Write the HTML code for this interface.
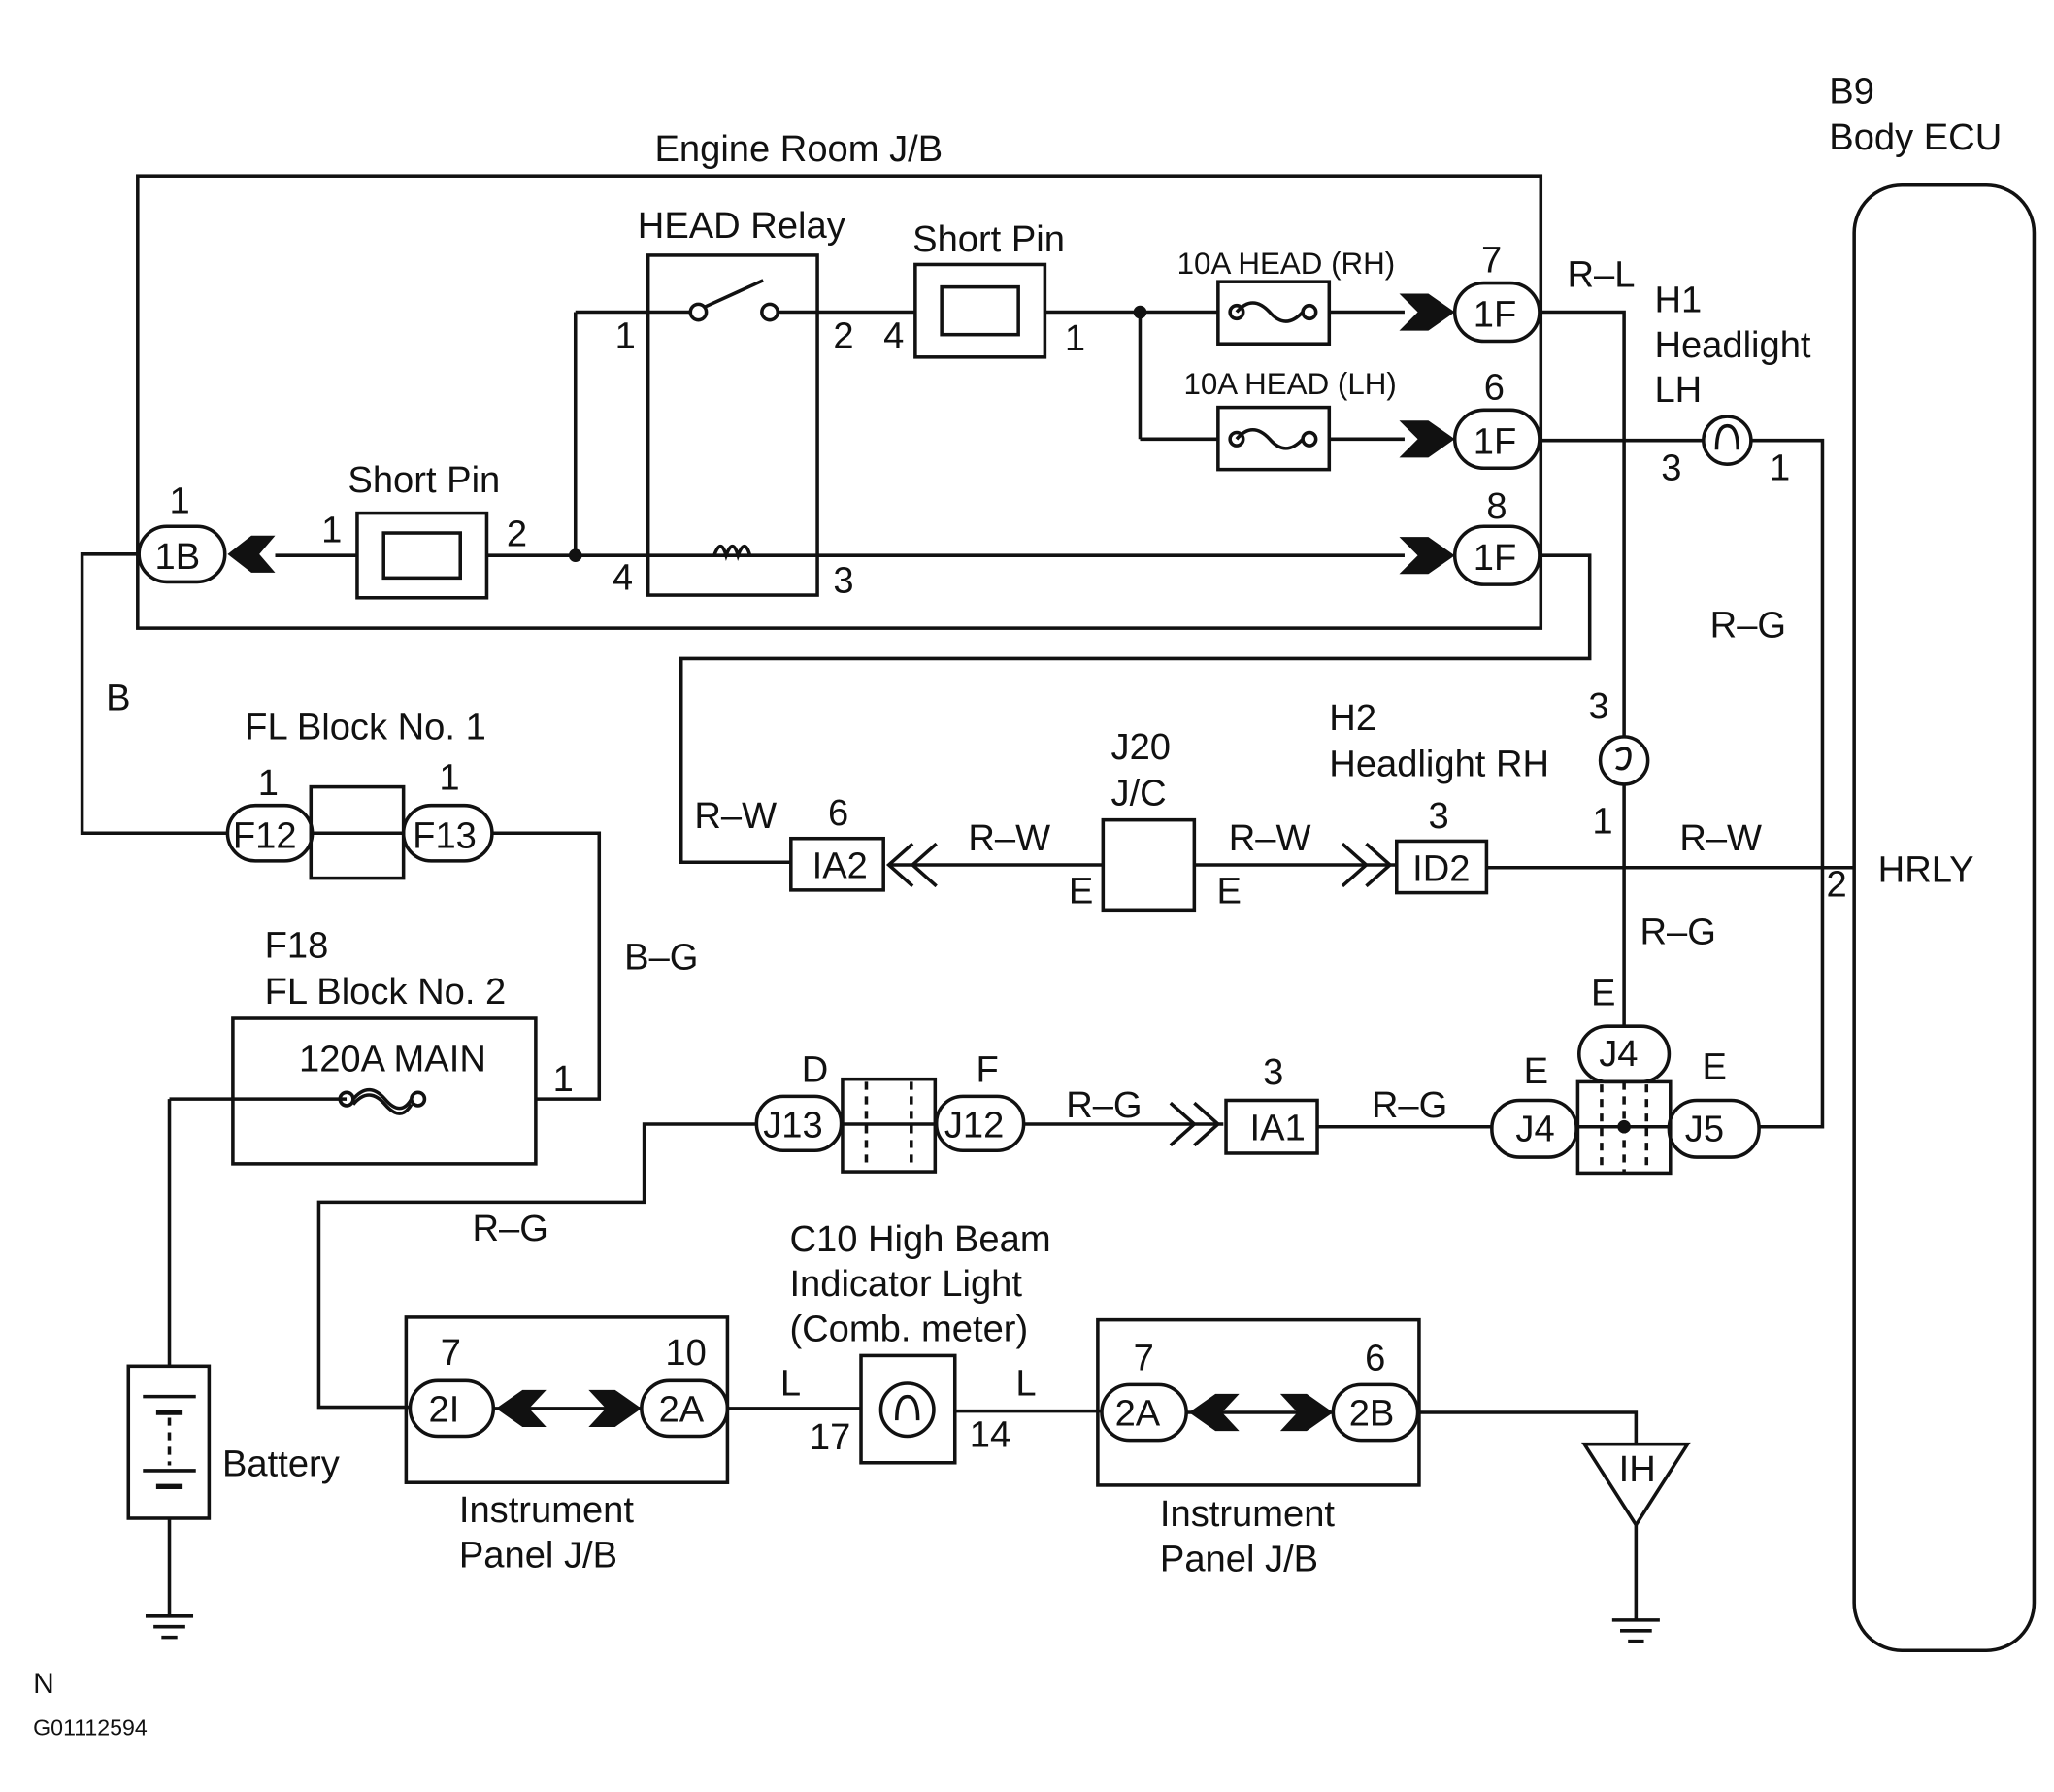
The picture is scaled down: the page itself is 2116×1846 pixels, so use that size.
<!DOCTYPE html>
<html><head><meta charset="utf-8"><style>
html,body{margin:0;padding:0;background:#fff;}
svg{display:block;}
text{font-family:"Liberation Sans",sans-serif;font-size:28px;fill:#111;}
</style></head><body>
<svg width="2116" height="1846" viewBox="0 0 1553 1355" xmlns="http://www.w3.org/2000/svg">
<g fill="none" stroke="#111" stroke-width="2.6">
<!-- Engine room box -->
<rect x="104" y="133" width="1061" height="342"/>
<!-- ECU -->
<rect x="1402" y="140" width="136" height="1108" rx="36"/>
<!-- HEAD relay -->
<rect x="490" y="193" width="128" height="257"/>
<line x1="435" y1="236" x2="522" y2="236"/>
<circle cx="528" cy="236" r="6"/>
<line x1="533" y1="232" x2="577" y2="212"/>
<circle cx="582" cy="236" r="6"/>
<line x1="588" y1="236" x2="692" y2="236"/>
<line x1="435" y1="236" x2="435" y2="420"/>
<!-- short pin top -->
<rect x="692" y="200" width="98" height="70"/>
<rect x="712" y="217" width="58" height="36"/>
<line x1="790" y1="236" x2="921" y2="236"/>
<line x1="862" y1="236" x2="862" y2="332"/>
<line x1="862" y1="332" x2="921" y2="332"/>
<rect x="921" y="213" width="84" height="47"/>
<rect x="921" y="308" width="84" height="47"/>
<path d="M935 236 q12 -14 25 0 q12 14 25 0"/>
<circle cx="935" cy="236" r="5"/><circle cx="990" cy="236" r="5"/>
<path d="M935 332 q12 -14 25 0 q12 14 25 0"/>
<circle cx="935" cy="332" r="5"/><circle cx="990" cy="332" r="5"/>
<line x1="1005" y1="236" x2="1062" y2="236"/>
<line x1="1005" y1="332" x2="1062" y2="332"/>
<!-- connectors 1F -->
<rect x="1100" y="214" width="64" height="44" rx="22"/>
<rect x="1100" y="310" width="64" height="44" rx="22"/>
<rect x="1100" y="398" width="64" height="44" rx="22"/>
<!-- bottom line -->
<line x1="208" y1="420" x2="270" y2="420"/>
<line x1="368" y1="420" x2="1062" y2="420"/>
<rect x="270" y="388" width="98" height="64"/>
<rect x="290" y="403" width="58" height="34"/>
<path d="M540 420 q5 -14 9 0 q5 -14 9 0 q5 -14 9 0"/>
<rect x="105" y="398" width="65" height="42" rx="21"/>
<!-- wiring right -->
<polyline points="1165,236 1228,236 1228,558"/>
<circle cx="1228" cy="575" r="18"/>
<path d="M1222 568 q12 -6 10 6 q-2 10 -10 6"/>
<line x1="1228" y1="593" x2="1228" y2="776"/>
<line x1="1165" y1="333" x2="1288" y2="333"/>
<circle cx="1306" cy="333" r="18"/>
<path d="M1298 340 q0 -18 8 -18 q8 0 8 18"/>
<polyline points="1324,333 1378,333 1378,852 1330,852"/>
<polyline points="1165,420 1202,420 1202,498 515,498 515,652 598,652"/>
<rect x="598" y="634" width="70" height="39"/>
<polyline points="690,638 672,654 690,670"/>
<polyline points="708,638 690,654 708,670"/>
<line x1="672" y1="654" x2="834" y2="654"/>
<rect x="834" y="620" width="69" height="68"/>
<line x1="903" y1="654" x2="1055" y2="654"/>
<polyline points="1015,638 1033,654 1015,670"/>
<polyline points="1033,638 1051,654 1033,670"/>
<rect x="1056" y="636" width="68" height="39"/>
<line x1="1124" y1="656" x2="1402" y2="656"/>
<!-- J4/J5 -->
<rect x="1194" y="776" width="68" height="42" rx="21"/>
<rect x="1193" y="818" width="70" height="69"/>
<line x1="1211" y1="820" x2="1211" y2="885" stroke-dasharray="6,5"/>
<line x1="1245" y1="820" x2="1245" y2="885" stroke-dasharray="6,5"/>
<line x1="1228" y1="818" x2="1228" y2="887" stroke-dasharray="6,5"/>
<line x1="1192" y1="852" x2="1262" y2="852"/>
<rect x="1128" y="832" width="64" height="43" rx="21"/>
<rect x="1262" y="832" width="68" height="43" rx="21"/>
<line x1="996" y1="852" x2="1128" y2="852"/>
<rect x="927" y="832" width="69" height="40"/>
<line x1="774" y1="850" x2="925" y2="850"/>
<polyline points="885,834 903,850 885,866"/>
<polyline points="903,834 921,850 903,866"/>
<rect x="572" y="829" width="64" height="41" rx="20"/>
<rect x="637" y="816" width="70" height="70"/>
<line x1="655" y1="818" x2="655" y2="884" stroke-dasharray="6,5"/>
<line x1="689" y1="818" x2="689" y2="884" stroke-dasharray="6,5"/>
<line x1="636" y1="850" x2="708" y2="850"/>
<rect x="708" y="829" width="66" height="41" rx="20"/>
<polyline points="572,850 487,850 487,909 241,909 241,1064 310,1064"/>
<!-- IP J/B left -->
<rect x="307" y="996" width="243" height="125"/>
<rect x="310" y="1044" width="63" height="42" rx="21"/>
<rect x="485" y="1044" width="65" height="42" rx="21"/>
<line x1="373" y1="1065" x2="485" y2="1065"/>
<line x1="550" y1="1065" x2="651" y2="1065"/>
<rect x="651" y="1025" width="71" height="81"/>
<circle cx="686" cy="1066" r="20"/>
<path d="M678 1074 q0 -18 8 -18 q8 0 8 18"/>
<line x1="722" y1="1067" x2="833" y2="1067"/>
<rect x="830" y="998" width="243" height="125"/>
<rect x="833" y="1047" width="64" height="42" rx="21"/>
<rect x="1008" y="1047" width="64" height="42" rx="21"/>
<line x1="897" y1="1068" x2="1008" y2="1068"/>
<polyline points="1073,1068 1237,1068 1237,1092"/>
<polygon points="1198,1092 1276,1092 1237,1153"/>
<line x1="1237" y1="1153" x2="1237" y2="1225"/>
<line x1="1219" y1="1225" x2="1255" y2="1225"/>
<line x1="1225" y1="1233" x2="1249" y2="1233"/>
<line x1="1231" y1="1241" x2="1243" y2="1241"/>
<!-- FL block 1 -->
<polyline points="105,419 62,419 62,630 172,630"/>
<rect x="172" y="609" width="64" height="42" rx="21"/>
<rect x="235" y="595" width="70" height="69"/>
<line x1="236" y1="630" x2="305" y2="630"/>
<rect x="305" y="609" width="67" height="42" rx="21"/>
<polyline points="372,630 453,630 453,831 405,831"/>
<rect x="176" y="770" width="229" height="110"/>
<line x1="128" y1="831" x2="262" y2="831"/>
<circle cx="262" cy="831" r="5"/><circle cx="316" cy="831" r="5"/>
<path d="M267 831 q12 -14 24 0 q12 14 20 0"/>
<path d="M267 835 q12 -14 24 0 q12 14 20 0"/>
<line x1="128" y1="831" x2="128" y2="1033"/>
<rect x="97" y="1033" width="61" height="115"/>
<line x1="108" y1="1056" x2="148" y2="1056"/>
<line x1="118" y1="1068" x2="138" y2="1068" stroke-width="4"/>
<line x1="128" y1="1072" x2="128" y2="1108" stroke-dasharray="6,5"/>
<line x1="108" y1="1112" x2="148" y2="1112"/>
<line x1="118" y1="1124" x2="138" y2="1124" stroke-width="4"/>
<line x1="128" y1="1148" x2="128" y2="1222"/>
<line x1="110" y1="1222" x2="146" y2="1222"/>
<line x1="116" y1="1230" x2="140" y2="1230"/>
<line x1="122" y1="1238" x2="134" y2="1238"/>
</g>
<g fill="#111">
<circle cx="862" cy="236" r="5"/>
<circle cx="435" cy="420" r="5"/>
<circle cx="1228" cy="852" r="5"/>
<!-- filled chevrons right -->
<polygon points="1058,222 1080,222 1100,236 1080,250 1058,250 1072,236"/>
<polygon points="1058,318 1080,318 1100,332 1080,346 1058,346 1072,332"/>
<polygon points="1058,406 1080,406 1100,420 1080,434 1058,434 1072,420"/>
<polygon points="208,405 190,405 172,419 190,433 208,433 196,419"/>
<polygon points="413,1051 395,1051 375,1065 395,1079 413,1079 400,1065"/>
<polygon points="445,1051 465,1051 485,1065 465,1079 445,1079 458,1065"/>
<polygon points="937,1054 919,1054 899,1068 919,1082 937,1082 924,1068"/>
<polygon points="968,1054 988,1054 1008,1068 988,1082 968,1082 981,1068"/>
</g>
<g>
<text x="495" y="122">Engine Room J/B</text>
<text x="1383" y="78">B9</text>
<text x="1383" y="113">Body ECU</text>
<text x="482" y="180">HEAD Relay</text>
<text x="690" y="190">Short Pin</text>
<text x="263" y="372">Short Pin</text>
<text x="890" y="207" font-size="23" style="font-size:23px">10A HEAD (RH)</text>
<text x="895" y="298" style="font-size:23px">10A HEAD (LH)</text>
<text x="465" y="263">1</text><text x="630" y="263">2</text><text x="668" y="263">4</text><text x="805" y="265">1</text>
<text x="463" y="446">4</text><text x="630" y="448">3</text>
<text x="243" y="410">1</text><text x="383" y="413">2</text><text x="128" y="388">1</text>
<text x="1120" y="206">7</text><text x="1122" y="302">6</text><text x="1124" y="392">8</text>
<text x="1114" y="247">1F</text><text x="1114" y="343">1F</text><text x="1114" y="431">1F</text>
<text x="117" y="430">1B</text>
<text x="1185" y="217">R–L</text>
<text x="1251" y="236">H1</text><text x="1251" y="270">Headlight</text><text x="1251" y="304">LH</text>
<text x="1256" y="363">3</text><text x="1338" y="363">1</text>
<text x="1293" y="482">R–G</text>
<text x="1005" y="552">H2</text><text x="1005" y="587">Headlight RH</text>
<text x="1201" y="543">3</text><text x="1204" y="630">1</text>
<text x="80" y="537">B</text>
<text x="185" y="559">FL Block No. 1</text>
<text x="195" y="601">1</text><text x="332" y="597">1</text>
<text x="176" y="641">F12</text><text x="312" y="641">F13</text>
<text x="840" y="574">J20</text><text x="840" y="609">J/C</text>
<text x="525" y="626">R–W</text><text x="626" y="624">6</text>
<text x="614" y="664">IA2</text>
<text x="732" y="643">R–W</text><text x="929" y="643">R–W</text>
<text x="808" y="683">E</text><text x="920" y="683">E</text>
<text x="1080" y="626">3</text><text x="1068" y="666">ID2</text>
<text x="1270" y="643">R–W</text>
<text x="1381" y="678">2</text>
<text x="1420" y="667">HRLY</text>
<text x="1240" y="714">R–G</text>
<text x="1203" y="760">E</text>
<text x="200" y="724">F18</text><text x="200" y="759">FL Block No. 2</text>
<text x="472" y="733">B–G</text>
<text x="226" y="810">120A MAIN</text>
<text x="418" y="825">1</text>
<text x="606" y="818">D</text><text x="738" y="818">F</text>
<text x="577" y="860">J13</text><text x="714" y="860">J12</text>
<text x="806" y="845">R–G</text>
<text x="955" y="820">3</text><text x="945" y="862">IA1</text>
<text x="1037" y="845">R–G</text>
<text x="1152" y="819">E</text><text x="1287" y="816">E</text>
<text x="1209" y="806">J4</text><text x="1146" y="863">J4</text><text x="1274" y="863">J5</text>
<text x="357" y="938">R–G</text>
<text x="597" y="946">C10 High Beam</text><text x="597" y="980">Indicator Light</text><text x="597" y="1014">(Comb. meter)</text>
<text x="333" y="1032">7</text><text x="503" y="1032">10</text>
<text x="324" y="1075">2I</text><text x="498" y="1075">2A</text>
<text x="590" y="1055">L</text><text x="768" y="1055">L</text>
<text x="612" y="1096">17</text><text x="733" y="1094">14</text>
<text x="857" y="1036">7</text><text x="1032" y="1036">6</text>
<text x="843" y="1078">2A</text><text x="1020" y="1078">2B</text>
<text x="168" y="1116">Battery</text>
<text x="347" y="1151">Instrument</text><text x="347" y="1185">Panel J/B</text>
<text x="877" y="1154">Instrument</text><text x="877" y="1188">Panel J/B</text>
<text x="1224" y="1120">IH</text>
<text x="25" y="1280" style="font-size:22px">N</text>
<text x="25" y="1312" style="font-size:17px">G01112594</text>
</g>
</svg>
</body></html>
